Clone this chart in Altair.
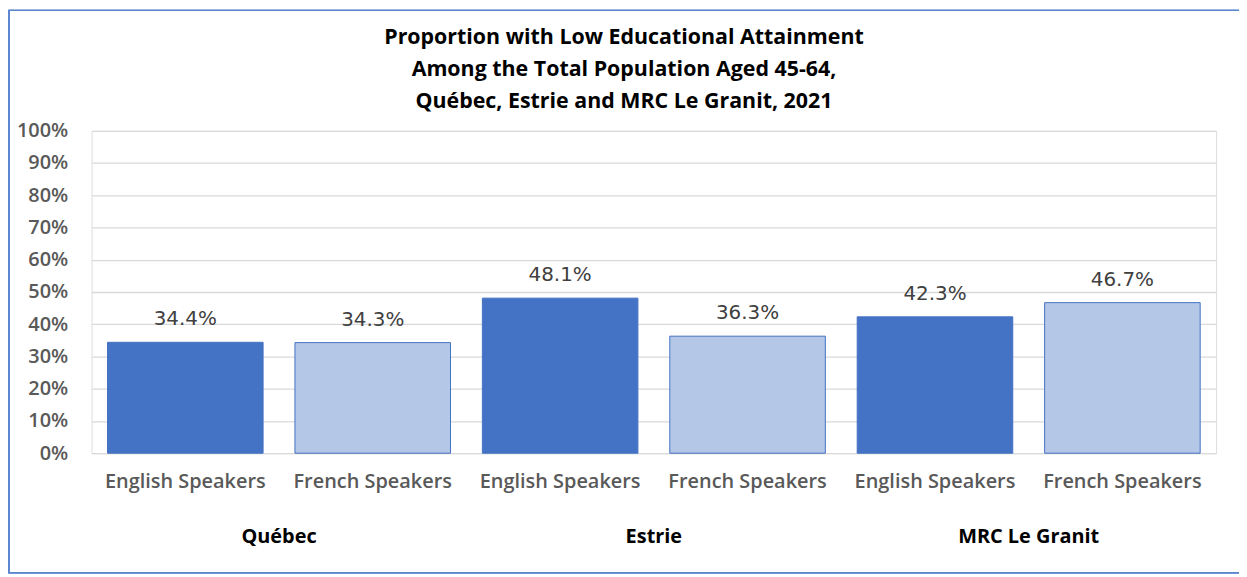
import altair as alt
import pandas as pd

regions = ["Québec", "Québec", "Estrie", "Estrie", "MRC Le Granit", "MRC Le Granit"]
speakers = ["English Speakers", "French Speakers"] * 3
values = [34.4, 34.3, 48.1, 36.3, 42.3, 46.7]
group_names = ["Québec", "Estrie", "MRC Le Granit"]
y_ticks = [0, 10, 20, 30, 40, 50, 60, 70, 80, 90, 100]
title_lines = [
    "Proportion with Low Educational  Attainment",
    "Among the Total Population  Aged 45-64,",
    "Québec, Estrie and MRC Le Granit, 2021",
]

keys = [f"{r}|{s}" for r, s in zip(regions, speakers)]
df = pd.DataFrame({"key": keys, "region": regions, "speaker": speakers, "value": values})
gdf = pd.DataFrame({"key": [f"{g}|English Speakers" for g in group_names], "group": group_names})
tdf = pd.DataFrame({"t": ["\n".join(title_lines)]})

W, H = 1130, 324
FONT = "Open Sans"

x_axis = alt.Axis(
    title=None,
    labelExpr="split(datum.label, '|')[1]",
    labelAngle=0,
    labelFont=FONT,
    labelFontSize=20,
    labelFontWeight=600,
    labelColor="#595959",
    labelPadding=18,
    ticks=False,
    domain=False,
    grid=False,
)
x = alt.X("key:N", sort=keys, scale=alt.Scale(paddingInner=0.17, paddingOuter=0.085), axis=x_axis)

y_axis = alt.Axis(
    title=None,
    values=y_ticks,
    tickCount=20,
    labelOverlap=False,
    labelExpr="datum.value + '%'",
    labelFont=FONT,
    labelFontSize=20,
    labelFontWeight=600,
    labelColor="#595959",
    labelPadding=24,
    ticks=False,
    domain=False,
    gridColor="#D9D9D9",
    gridWidth=1.3,
)
y = alt.Y("value:Q", scale=alt.Scale(domain=[0, 100]), axis=y_axis)

bars = alt.Chart(df).mark_bar(strokeWidth=1, stroke="#4472C4").encode(
    x=x,
    y=y,
    color=alt.Color(
        "speaker:N",
        scale=alt.Scale(domain=["English Speakers", "French Speakers"], range=["#4472C4", "#B4C7E7"]),
        legend=None,
    ),
)

labels = alt.Chart(df).transform_calculate(
    lab="format(datum.value, '.1f') + '%'"
).mark_text(font="DejaVu Sans", fontSize=20, color="#404040", baseline="bottom", dy=-13).encode(
    x=x,
    y=y,
    text="lab:N",
)

groups = alt.Chart(gdf).mark_text(
    font=FONT, fontSize=20, fontWeight="bold", color="#000000", baseline="middle", dx=W / 12
).encode(
    x=x,
    y=alt.value(408),
    text="group:N",
)

title = alt.Chart(tdf).mark_text(
    font=FONT, fontSize=21.5, fontWeight="bold", color="#000000", baseline="middle",
    lineBreak="\n", lineHeight=32, align="center"
).encode(
    x=alt.value(535),
    y=alt.value(-93),
    text="t:N",
)

border = alt.Chart(gdf).mark_rect(filled=False, stroke="#5A86D0", strokeWidth=1.5).encode(
    x=alt.value(-83), x2=alt.value(1236), y=alt.value(-121), y2=alt.value(444)
)

chart = alt.layer(border, bars, labels, groups, title).properties(
    width=W,
    height=H,
    autosize=alt.AutoSizeParams(type="none"),
    padding={"left": 84, "top": 122, "right": 23, "bottom": 123},
).configure_view(stroke="#D9D9D9", strokeWidth=1.3).configure(background="white")

chart.save("out.html", embed_options={"renderer": "svg", "actions": False})
